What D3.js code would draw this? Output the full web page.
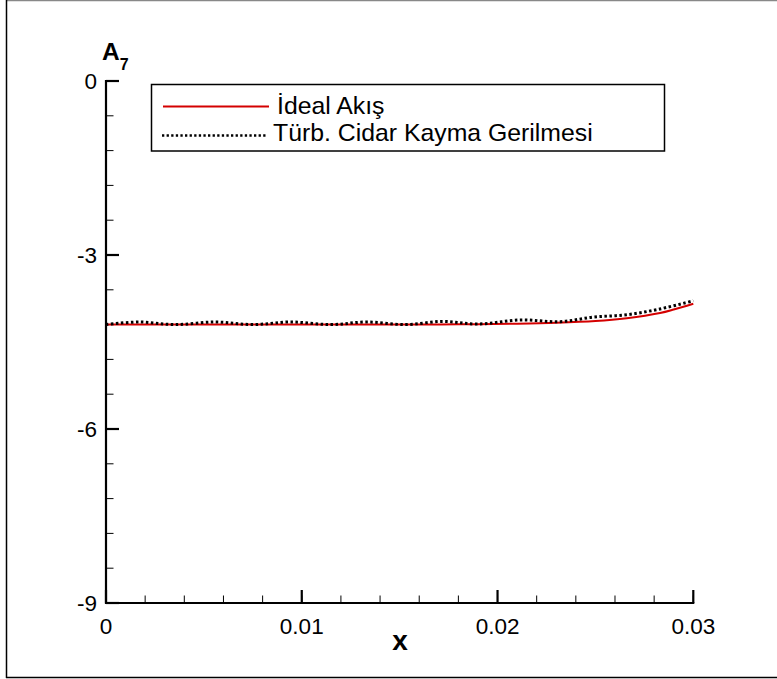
<!DOCTYPE html>
<html><head><meta charset="utf-8">
<script src="https://cdn.jsdelivr.net/npm/d3@7"></script>
<style>html,body{margin:0;padding:0;background:#fff;}svg{display:block;font-family:"Liberation Sans",Arial,sans-serif;}</style>
</head><body>
<svg id="c" width="777" height="679"></svg>
<script>
// Data
const idealX = [0, 0.005, 0.01, 0.015, 0.018, 0.021, 0.023, 0.025, 0.0266, 0.0283, 0.029, 0.03];
const idealY = [-4.2, -4.2, -4.2, -4.2, -4.195, -4.185, -4.17, -4.14, -4.09, -4.0, -3.94, -3.84];
const turbX = [0, 0.0017, 0.0035, 0.0056, 0.0075, 0.0094, 0.0115, 0.0133, 0.0153, 0.0172, 0.019, 0.0212, 0.0232, 0.0249, 0.0266, 0.0283, 0.03];
const turbY = [-4.2, -4.155, -4.2, -4.155, -4.2, -4.155, -4.2, -4.155, -4.2, -4.145, -4.19, -4.12, -4.15, -4.07, -4.03, -3.93, -3.79];
const xTicks = [0, 0.01, 0.02, 0.03];
const xTickLabels = ["0", "0.01", "0.02", "0.03"];
const yTicks = [0, -3, -6, -9];
const yTickLabels = ["0", "-3", "-6", "-9"];
const legendLabels = ["İdeal Akış", "Türb. Cidar Kayma Gerilmesi"];

const svg = d3.select("#c");
// outer frame
svg.append("line").attr("x1",6).attr("x2",777).attr("y1",0.5).attr("y2",0.5).attr("stroke","#888").attr("stroke-width",1.5);
svg.append("line").attr("x1",6.5).attr("x2",6.5).attr("y1",0).attr("y2",678).attr("stroke","#000").attr("stroke-width",1.5);
svg.append("line").attr("x1",6).attr("x2",777).attr("y1",677.5).attr("y2",677.5).attr("stroke","#000").attr("stroke-width",1.5);

const x = d3.scaleLinear().domain([0, 0.03]).range([106, 693.3]);
const y = d3.scaleLinear().domain([-9, 0]).range([603, 81]);

// x axis
const xMinor = d3.range(0, 0.03001, 0.002);
const gx = svg.append("g");
gx.append("line").attr("x1", x(0)-1).attr("x2", x(0.03)+1).attr("y1", y(-9)).attr("y2", y(-9)).attr("stroke","#000").attr("stroke-width",2.2);
gx.selectAll(".mn").data(xMinor).enter().append("line")
  .attr("x1", d=>x(d)).attr("x2", d=>x(d)).attr("y1", y(-9)).attr("y2", y(-9)-7.5).attr("stroke","#000").attr("stroke-width",1);
gx.selectAll(".mj").data(xTicks).enter().append("line")
  .attr("x1", d=>x(d)).attr("x2", d=>x(d)).attr("y1", y(-9)).attr("y2", y(-9)-13).attr("stroke","#000").attr("stroke-width",2.2);
gx.selectAll("text").data(xTicks).enter().append("text")
  .attr("x", d=>x(d)).attr("y", 633.5).attr("text-anchor","middle").attr("font-size",22.5).text((d,i)=>xTickLabels[i]);
svg.append("text").attr("x", 400).attr("y", 650).attr("text-anchor","middle").attr("font-size",28).attr("font-weight","bold").text("x");

// y axis
const yMinor = d3.range(-9, 0.0001, 0.6);
const gy = svg.append("g");
gy.append("line").attr("x1", x(0)).attr("x2", x(0)).attr("y1", y(0)-1).attr("y2", y(-9)+1).attr("stroke","#000").attr("stroke-width",2.2);
gy.selectAll(".mn").data(yMinor).enter().append("line")
  .attr("x1", x(0)).attr("x2", x(0)+7.5).attr("y1", d=>y(d)).attr("y2", d=>y(d)).attr("stroke","#000").attr("stroke-width",1);
gy.selectAll(".mj").data(yTicks).enter().append("line")
  .attr("x1", x(0)).attr("x2", x(0)+13).attr("y1", d=>y(d)).attr("y2", d=>y(d)).attr("stroke","#000").attr("stroke-width",2.2);
gy.selectAll("text").data(yTicks).enter().append("text")
  .attr("x", 97).attr("y", d=>y(d)+8).attr("text-anchor","end").attr("font-size",22.5).text((d,i)=>yTickLabels[i]);
const yl = svg.append("text").attr("x", 102).attr("y", 59.5).attr("font-size",24.5).attr("font-weight","bold");
yl.append("tspan").text("A");
yl.append("tspan").attr("font-size",16).attr("dy",10.5).text("7");

// lines
const line = d3.line().x(d=>x(d[0])).y(d=>y(d[1])).curve(d3.curveCatmullRom.alpha(0.5));
svg.append("path").datum(idealX.map((v,i)=>[v, idealY[i]])).attr("d", line)
  .attr("fill","none").attr("stroke","#d40000").attr("stroke-width",2);
svg.append("path").datum(turbX.map((v,i)=>[v, turbY[i]])).attr("d", line)
  .attr("fill","none").attr("stroke","#000").attr("stroke-width",3).attr("stroke-dasharray","2.5,2.5");

// legend
const lg = svg.append("g");
lg.append("rect").attr("x",151.5).attr("y",84.5).attr("width",513).attr("height",66.5)
  .attr("fill","#fff").attr("stroke","#000").attr("stroke-width",1.5);
lg.append("line").attr("x1",163).attr("x2",269).attr("y1",106.5).attr("y2",106.5).attr("stroke","#d40000").attr("stroke-width",2);
lg.append("line").attr("x1",162).attr("x2",267).attr("y1",135.5).attr("y2",135.5).attr("stroke","#000").attr("stroke-width",2.5).attr("stroke-dasharray","2.3,2.3");
lg.append("text").attr("x",277).attr("y",113.5).attr("font-size",24.8).text(legendLabels[0]);
lg.append("text").attr("x",273).attr("y",140.5).attr("font-size",24.8).text(legendLabels[1]);
</script>
</body></html>
